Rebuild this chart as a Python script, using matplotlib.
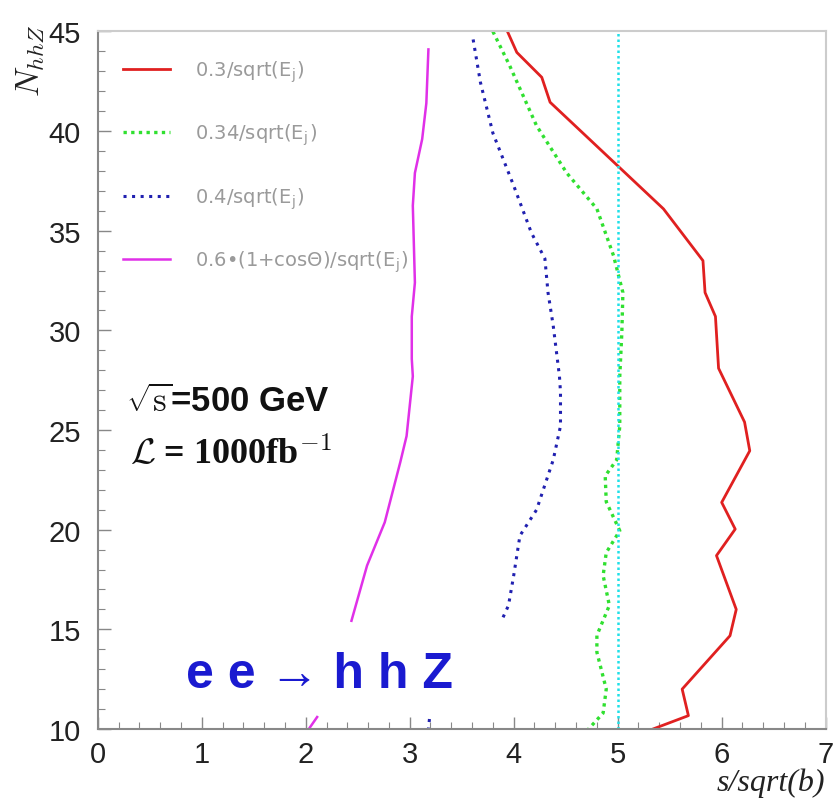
import numpy as np
import matplotlib
matplotlib.use("Agg")
import matplotlib.pyplot as plt
from matplotlib.ticker import MultipleLocator

# s/sqrt(b) vs N_hhZ
red_x = [3.94, 4.03, 4.27, 4.35, 5.00, 5.44, 5.82, 5.84, 5.94, 5.97, 6.22, 6.27, 6.00, 6.13, 5.95, 6.14, 6.08, 5.62, 5.68, 5.34]
red_y = [45.0, 43.95, 42.7, 41.45, 38.26, 36.1, 33.5, 31.9, 30.7, 28.1, 25.4, 23.96, 21.37, 20.03, 18.7, 16.0, 14.68, 12.0, 10.67, 10.0]

green_x = [3.80, 3.96, 4.22, 4.51, 4.80, 4.96, 5.05, 5.04, 5.02, 5.02, 4.99, 4.88, 4.89, 5.02, 4.89, 4.86, 4.92, 4.80, 4.80, 4.89, 4.86, 4.72]
green_y = [45.0, 43.3, 40.27, 37.9, 36.1, 33.75, 31.9, 29.9, 27.7, 25.2, 23.5, 22.7, 21.4, 19.95, 18.85, 17.7, 16.2, 14.7, 13.85, 12.0, 10.8, 10.0]

blue_x = [3.61, 3.68, 3.80, 4.00, 4.17, 4.30, 4.33, 4.38, 4.44, 4.45, 4.45, 4.38, 4.22, 4.06, 4.00, 3.95, 3.88, np.nan, 3.19, 3.18]
blue_y = [44.6, 42.45, 39.9, 37.26, 34.9, 33.6, 31.9, 30.24, 27.7, 26.9, 25.2, 23.5, 21.0, 19.7, 17.7, 16.2, 15.4, np.nan, 10.5, 10.0]

mag_x = [3.18, 3.16, 3.12, 3.05, 3.03, 3.05, 3.02, 3.02, 3.03, 2.97, 2.91, 2.76, 2.59, 2.44, np.nan, 2.11, 2.03]
mag_y = [44.1, 41.4, 39.6, 37.9, 36.26, 32.4, 30.7, 28.57, 27.7, 24.7, 23.4, 20.37, 18.2, 15.43, np.nan, 10.6, 10.0]

labels = [r"0.3/sqrt(E$_\mathregular{j}$)", r"0.34/sqrt(E$_\mathregular{j}$)",
          r"0.4/sqrt(E$_\mathregular{j}$)", r"0.6•(1+cosΘ)/sqrt(E$_\mathregular{j}$)"]

plt.rcParams['font.family'] = ['Liberation Sans', 'DejaVu Sans']
plt.rcParams['mathtext.fontset'] = 'cm'

fig = plt.figure(figsize=(8.38, 8.12), dpi=100)
ax = fig.add_axes([0.1166, 0.101, 0.8687, 0.859])

ax.plot(red_x, red_y, color='#e02020', lw=2.0, label=labels[0])
ax.plot(green_x, green_y, color='#30e030', lw=2.4, ls=(0, (1, 1.3)), label=labels[1])
ax.plot(blue_x, blue_y, color='#2020b0', lw=2.2, ls=(0, (1, 1.8)), label=labels[2])
ax.plot(mag_x, mag_y, color='#e030e8', lw=1.8, label=labels[3])
ax.axvline(5, color='#20e0e8', lw=1.8, ls=(0, (1, 1.2)))

ax.set_xlim(0, 7)
ax.set_ylim(10, 45)
ax.xaxis.set_major_locator(MultipleLocator(1))
ax.xaxis.set_minor_locator(MultipleLocator(0.2))
ax.yaxis.set_major_locator(MultipleLocator(5))
ax.yaxis.set_minor_locator(MultipleLocator(1))
ax.tick_params(which='both', direction='in', colors='#888888', labelcolor='#222222',
               labelsize=21, top=False, right=False)
ax.tick_params(which='major', length=9, width=1.0)
ax.tick_params(which='minor', length=5, width=0.8)
ax.tick_params(axis='y', pad=12)
ax.tick_params(axis='x', pad=8)
for side in ['left', 'bottom']:
    ax.spines[side].set_color('#888888')
    ax.spines[side].set_linewidth(1.5)
for side in ['top', 'right']:
    ax.spines[side].set_color('#cccccc')
    ax.spines[side].set_linewidth(1.5)

leg = ax.legend(loc='upper left', bbox_to_anchor=(0.147, 0.927), bbox_transform=fig.transFigure,
                frameon=False, prop={'family': 'DejaVu Sans', 'size': 14},
                handlelength=2.4, handletextpad=1.3, labelspacing=1.95,
                borderpad=0, borderaxespad=0)
for t in leg.get_texts():
    t.set_color('#9a9a9a')

fig.text(0.150, 0.505, r"$\sqrt{\mathrm{s}}$=500 GeV", fontsize=25, fontweight='bold',
         va='center', ha='left', color='#111111')
fig.text(0.155, 0.440, r"$\mathcal{L}$ = 1000fb$^{-1}$", fontsize=26, fontweight='bold',
         family='Liberation Serif', va='center', ha='left', color='#111111')
fig.text(0.222, 0.169, "e e → h h Z", fontsize=36, fontweight='bold',
         va='center', ha='left', color='#1a1ad0')

fig.text(0.036, 0.925, r"$N_{hhZ}$", fontsize=24, rotation=90, va='center', ha='center',
         color='#222222')
fig.text(0.985, 0.036, "s/sqrt(b)", fontsize=23, family='Liberation Serif', style='italic',
         va='center', ha='right', color='#222222')

fig.savefig("out.png", dpi=100, facecolor='white')
